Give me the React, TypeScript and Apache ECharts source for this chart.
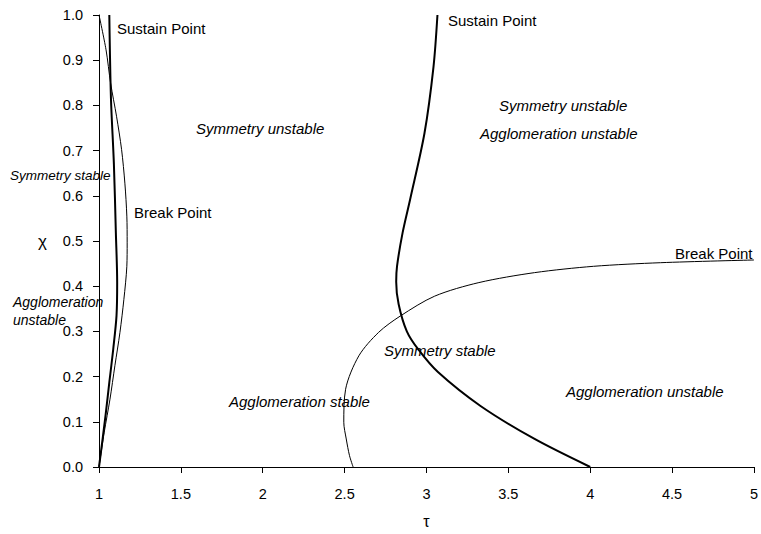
import React, { useEffect, useRef } from "react";
import * as echarts from "echarts";

// Left "Sustain Point" curve (thick)
const sustainLeftTau = [1.063, 1.073, 1.091, 1.103, 1.111, 1.107, 1.087, 1.063, 1.04, 1.0];
const sustainLeftChi = [1.0, 0.816, 0.67, 0.518, 0.408, 0.335, 0.261, 0.187, 0.114, 0.0];

// Left "Break Point" curve (thin)
const breakLeftTau = [1.0, 1.043, 1.071, 1.107, 1.138, 1.158, 1.17, 1.172, 1.17, 1.152, 1.128, 1.097, 1.067, 1.032, 1.0];
const breakLeftChi = [1.0, 0.923, 0.849, 0.776, 0.702, 0.628, 0.555, 0.496, 0.444, 0.371, 0.298, 0.224, 0.15, 0.077, 0.0];

// Right "Sustain Point" curve (thick)
const sustainRightTau = [3.067, 3.043, 2.988, 2.9, 2.854, 2.82, 2.815, 2.83, 2.88, 2.95, 3.07, 3.33, 3.66, 4.0];
const sustainRightChi = [1.0, 0.886, 0.739, 0.592, 0.518, 0.444, 0.41, 0.36, 0.3, 0.26, 0.21, 0.135, 0.062, 0.0];

// Right "Break Point" curve (thin)
const breakRightTau = [2.552, 2.53, 2.51, 2.495, 2.506, 2.587, 2.708, 2.84, 3.05, 3.32, 3.66, 4.02, 4.43, 5.0];
const breakRightChi = [0.0, 0.025, 0.062, 0.099, 0.172, 0.246, 0.298, 0.334, 0.378, 0.408, 0.43, 0.444, 0.452, 0.458];

const xTicks = { min: 1, max: 5, interval: 0.5 };
const yTicks = { min: 0, max: 1, interval: 0.1 };

const zip = (xs: number[], ys: number[]) => xs.map((x, i) => [x, ys[i]]);

const FONT = "Liberation Sans, Arial, sans-serif";

export default function App() {
  const ref = useRef<HTMLDivElement>(null);
  useEffect(() => {
    document.body.style.margin = "0";
    const chart = echarts.init(ref.current!, null, { renderer: "svg" });
    const lineSeries = (data: number[][], width: number) => ({
      type: "line",
      data,
      smooth: 0.3,
      showSymbol: false,
      symbol: "none",
      lineStyle: { color: "#000", width },
      silent: true,
    });
    const txt = (x: number, y: number, text: string, size: number, italic: boolean) => ({
      type: "text",
      x,
      y,
      silent: true,
      style: {
        text,
        fontSize: size,
        fontStyle: italic ? "italic" : "normal",
        fontFamily: FONT,
        fill: "#000",
        verticalAlign: "middle",
        align: "left",
      },
    });
    chart.setOption({
      animation: false,
      backgroundColor: "#fff",
      grid: { left: 99, right: 4, top: 15, bottom: 63, containLabel: false },
      xAxis: {
        type: "value",
        min: xTicks.min,
        max: xTicks.max,
        interval: xTicks.interval,
        name: "τ",
        nameLocation: "middle",
        nameGap: 46,
        nameTextStyle: { fontSize: 16, color: "#000", fontFamily: FONT },
        axisLine: { show: true, lineStyle: { color: "#000", width: 1 } },
        axisTick: { show: true, inside: false, length: 6, lineStyle: { color: "#000" } },
        axisLabel: { color: "#000", fontSize: 14.5, fontFamily: FONT, margin: 19 },
        splitLine: { show: false },
      },
      yAxis: {
        type: "value",
        min: yTicks.min,
        max: yTicks.max,
        interval: yTicks.interval,
        name: "χ",
        nameLocation: "middle",
        nameGap: 52,
        nameRotate: 0,
        nameTextStyle: { fontSize: 17, color: "#000", fontFamily: FONT },
        axisLine: { show: true, lineStyle: { color: "#000", width: 1 } },
        axisTick: { show: true, inside: false, length: 6, lineStyle: { color: "#000" } },
        axisLabel: {
          color: "#000",
          fontSize: 14.5,
          fontFamily: FONT,
          margin: 16,
          formatter: (v: number) => v.toFixed(1),
        },
        splitLine: { show: false },
      },
      series: [
        lineSeries(zip(breakLeftTau, breakLeftChi), 1),
        lineSeries(zip(sustainLeftTau, sustainLeftChi), 2),
        lineSeries(zip(breakRightTau, breakRightChi), 1),
        lineSeries(zip(sustainRightTau, sustainRightChi), 2),
      ],
      graphic: [
        txt(117, 28, "Sustain Point", 15, false),
        txt(448, 20, "Sustain Point", 15, false),
        txt(196, 128, "Symmetry unstable", 15, true),
        txt(499, 105, "Symmetry unstable", 15, true),
        txt(480, 133, "Agglomeration unstable", 15, true),
        txt(10, 175, "Symmetry stable", 13.5, true),
        txt(134, 212, "Break Point", 15, false),
        txt(13, 302, "Agglomeration", 14, true),
        txt(13, 320, "unstable", 14, true),
        txt(675, 253, "Break Point", 15, false),
        txt(384, 350, "Symmetry stable", 15, true),
        txt(229, 401, "Agglomeration stable", 15, true),
        txt(566, 391, "Agglomeration unstable", 15, true),
      ],
    });
    return () => chart.dispose();
  }, []);
  return (
    <div
      ref={ref}
      style={{ position: "absolute", left: 0, top: 0, width: 761, height: 534 }}
    />
  );
}
